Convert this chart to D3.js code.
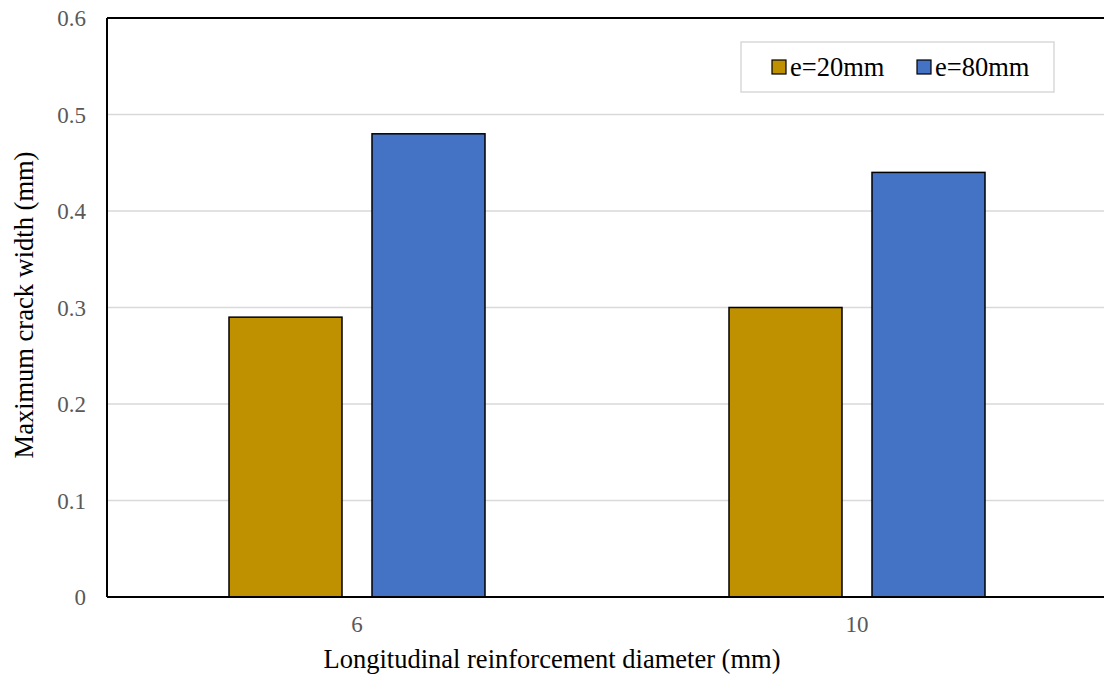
<!DOCTYPE html>
<html><head><meta charset="utf-8">
<script src="https://cdn.jsdelivr.net/npm/d3@7"></script>
<style>body{margin:0;background:#fff}svg{display:block}</style>
</head><body><svg id="c" width="1104" height="675"></svg>
<script>
const categories = ["6", "10"];
const seriesNames = ["e=20mm", "e=80mm"];
const seriesColors = ["#BF9000", "#4472C4"];
const values20 = [0.29, 0.30];
const values80 = [0.48, 0.44];
const yTicks = [0, 0.1, 0.2, 0.3, 0.4, 0.5, 0.6];
const xTitle = "Longitudinal reinforcement diameter (mm)";
const yTitle = "Maximum crack width (mm)";

const svg = d3.select("#c");
const font = "'Liberation Serif','Times New Roman',serif";
const L = 107, R = 1107, T = 18, B = 597;

const x = d3.scaleBand().domain(categories).range([L, R]);
const y = d3.scaleLinear().domain([0, 0.6]).range([B, T]);
const barW = 113, gap = 30;
const groupW = 2 * barW + gap;
const sub = d3.scaleOrdinal().domain(seriesNames).range([0, barW + gap]);

// gridlines
svg.append("g").selectAll("line").data(yTicks.filter(d => d > 0)).join("line")
  .attr("x1", L).attr("x2", 1104).attr("y1", d => y(d)).attr("y2", d => y(d))
  .attr("stroke", "#D9D9D9").attr("stroke-width", 1.5);

// bars
const data = categories.map((c, i) => ({ c, v: [values20[i], values80[i]] }));
const g = svg.append("g");
data.forEach(d => {
  d.v.forEach((v, j) => {
    const x0 = x(d.c) + x.bandwidth() / 2 - groupW / 2 + sub(seriesNames[j]);
    g.append("rect").attr("x", x0).attr("y", y(v)).attr("width", barW)
      .attr("height", y(0) - y(v)).attr("fill", seriesColors[j])
      .attr("stroke", "#000").attr("stroke-width", 1.5);
  });
});

// frame: left, top, bottom
svg.append("line").attr("x1", L).attr("x2", L).attr("y1", T).attr("y2", B).attr("stroke", "#000").attr("stroke-width", 2);
svg.append("line").attr("x1", L).attr("x2", 1104).attr("y1", T).attr("y2", T).attr("stroke", "#000").attr("stroke-width", 2);
svg.append("line").attr("x1", L).attr("x2", 1104).attr("y1", B).attr("y2", B).attr("stroke", "#000").attr("stroke-width", 2);

// y tick labels
svg.append("g").selectAll("text").data(yTicks).join("text")
  .attr("x", 86).attr("y", d => y(d)).attr("dy", "0.35em").attr("text-anchor", "end")
  .attr("font-family", font).attr("font-size", 23).attr("fill", "#595959")
  .text(d => d === 0 ? "0" : d3.format(".1f")(d));

// x tick labels
svg.append("g").selectAll("text").data(categories).join("text")
  .attr("x", d => x(d) + x.bandwidth() / 2).attr("y", 632).attr("text-anchor", "middle")
  .attr("font-family", font).attr("font-size", 23).attr("fill", "#595959").text(d => d);

// axis titles
svg.append("text").attr("x", 552).attr("y", 668).attr("text-anchor", "middle")
  .attr("font-family", font).attr("font-size", 26.5).attr("fill", "#000").text(xTitle);
svg.append("text").attr("transform", "translate(33,305) rotate(-90)").attr("text-anchor", "middle")
  .attr("font-family", font).attr("font-size", 26.5).attr("fill", "#000").text(yTitle);

// legend
const lg = svg.append("g");
lg.append("rect").attr("x", 741).attr("y", 42).attr("width", 313).attr("height", 50)
  .attr("fill", "#fff").attr("stroke", "#D9D9D9").attr("stroke-width", 1.5);
const legX = [772, 917];
seriesNames.forEach((n, i) => {
  lg.append("rect").attr("x", legX[i]).attr("y", 60).attr("width", 14).attr("height", 14)
    .attr("fill", seriesColors[i]).attr("stroke", "#000").attr("stroke-width", 1.2);
  lg.append("text").attr("x", legX[i] + 18).attr("y", 67).attr("dy", "0.35em")
    .attr("font-family", font).attr("font-size", 26.5).attr("fill", "#000").text(n);
});
</script></body></html>
